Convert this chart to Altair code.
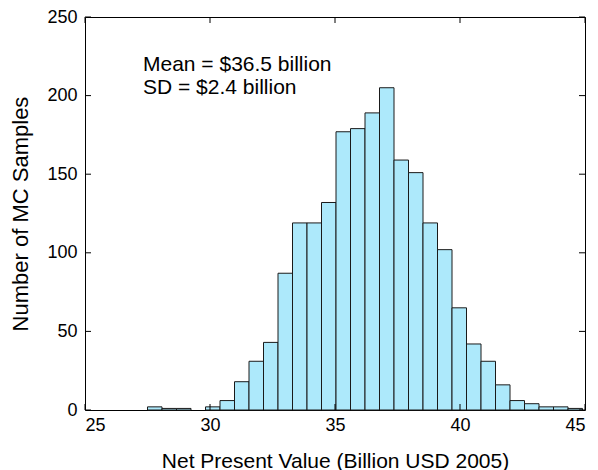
import altair as alt
import pandas as pd

# Histogram bin edges (Billion USD 2005) and counts
bin_edges = [27.50, 28.08, 28.66, 29.24, 29.82, 30.40, 30.98, 31.56, 32.14, 32.72,
             33.30, 33.88, 34.46, 35.04, 35.62, 36.20, 36.78, 37.36, 37.94, 38.52,
             39.10, 39.68, 40.26, 40.84, 41.42, 42.00, 42.58, 43.16, 43.74, 44.32, 44.90]
counts = [2, 1, 1, 0, 2, 6, 18, 31, 43, 87, 119, 119, 132, 177, 179, 189, 205, 159,
          151, 119, 102, 65, 42, 31, 16, 6, 4, 2, 2, 1]

x_ticks = [25, 30, 35, 40, 45]
y_ticks = [0, 50, 100, 150, 200, 250]
mean_val = 36.5
sd_val = 2.4

W, H = 500, 393
FONT = "Liberation Sans"

bars_df = pd.DataFrame({
    "start": bin_edges[:-1],
    "end": bin_edges[1:],
    "count": counts,
})
bars_df = bars_df[bars_df["count"] > 0]

xscale = alt.Scale(domain=[25, 45], nice=False, zero=False)
yscale = alt.Scale(domain=[0, 250], nice=False)

xaxis = alt.Axis(values=x_ticks, title="Net Present Value (Billion USD 2005)",
                 ticks=False, domain=False, grid=False, labelPadding=6,
                 labelFontSize=18, labelFont=FONT, labelColor="#000",
                 titleFontSize=21, titleFont=FONT, titleFontWeight="normal",
                 titleColor="#000", titleBaseline="alphabetic", titleY=57)
yaxis = alt.Axis(values=y_ticks, title="Number of MC Samples",
                 ticks=False, domain=False, grid=False, labelPadding=8,
                 labelFontSize=18, labelFont=FONT, labelColor="#000",
                 titleFontSize=22, titleFont=FONT, titleFontWeight="normal",
                 titleColor="#000", titleBaseline="alphabetic", titleX=-58)

bars = alt.Chart(bars_df).mark_rect(
    fill="#ade9fb", stroke="#1a1a1a", strokeWidth=1
).encode(
    x=alt.X("start:Q", scale=xscale, axis=xaxis),
    x2="end:Q",
    y=alt.Y("count:Q", scale=yscale, axis=yaxis),
    y2=alt.datum(0),
)

xt_df = pd.DataFrame({"v": x_ticks})
yt_df = pd.DataFrame({"v": y_ticks})

xt_bottom = alt.Chart(xt_df).mark_rule(color="#000", strokeWidth=1).encode(
    x=alt.X("v:Q", scale=xscale, axis=xaxis), y=alt.value(H), y2=alt.value(H - 6))
xt_top = alt.Chart(xt_df).mark_rule(color="#000", strokeWidth=1).encode(
    x=alt.X("v:Q", scale=xscale, axis=xaxis), y=alt.value(0), y2=alt.value(6))
yt_left = alt.Chart(yt_df).mark_rule(color="#000", strokeWidth=1).encode(
    y=alt.Y("v:Q", scale=yscale, axis=yaxis), x=alt.value(0), x2=alt.value(6))
yt_right = alt.Chart(yt_df).mark_rule(color="#000", strokeWidth=1).encode(
    y=alt.Y("v:Q", scale=yscale, axis=yaxis), x=alt.value(W), x2=alt.value(W - 6))

ann_df = pd.DataFrame({"lines": [[f"Mean = ${mean_val} billion", f"SD = ${sd_val} billion"]]})
ann = alt.Chart(ann_df).mark_text(
    align="left", baseline="alphabetic", font=FONT, fontSize=21, color="#000",
    lineHeight=23
).encode(text="lines", x=alt.value(58), y=alt.value(54))

chart = alt.layer(bars, xt_bottom, xt_top, yt_left, yt_right, ann).properties(
    width=W, height=H,
    autosize=alt.AutoSizeParams(type="none"),
    padding={"left": 77, "top": 9, "right": 5, "bottom": 60},
    background="white",
).configure_view(stroke="#000", strokeWidth=1)

chart.save("out.html", embed_options={"renderer": "svg", "actions": False})
